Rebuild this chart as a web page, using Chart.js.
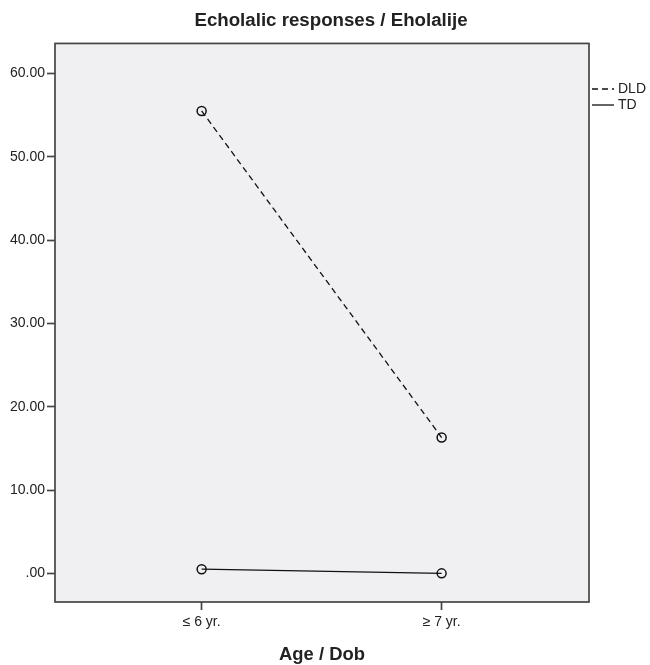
<!DOCTYPE html>
<html>
<head>
<meta charset="utf-8">
<script src="https://cdn.jsdelivr.net/npm/chart.js@4"></script>
<style>
  html, body { margin: 0; padding: 0; background: #ffffff; }
  #wrap { width: 650px; height: 665px; }
</style>
</head>
<body>
<div id="wrap"><canvas id="c" width="650" height="665"></canvas></div>
<script>
// ---- data ----
const chartTitle = 'Echolalic responses / Eholalije';
const xAxisTitle = 'Age / Dob';
const categories = ['\u2264 6 yr.', '\u2265 7 yr.'];
const seriesNames = ['DLD', 'TD'];
const dldValues = [55.5, 16.3];
const tdValues = [0.5, 0.0];
const yTicks = [0, 10, 20, 30, 40, 50, 60];

const FONT = "'Liberation Sans', Arial, Helvetica, sans-serif";
const INK = '#222222';
const FRAME = '#454545';

function toPoints(values) {
  return values.map((v, i) => ({ x: i + 1, y: v }));
}

const frameAndLegend = {
  id: 'frameAndLegend',
  beforeDraw(chart) {
    const { ctx, chartArea: a } = chart;
    ctx.save();
    ctx.fillStyle = '#f0f0f2';
    ctx.fillRect(a.left, a.top, a.right - a.left, a.bottom - a.top);
    ctx.restore();
  },
  afterDraw(chart) {
    const { ctx, chartArea: a } = chart;
    ctx.save();
    ctx.strokeStyle = FRAME;
    ctx.lineWidth = 1.7;
    ctx.strokeRect(a.left, a.top, a.right - a.left, a.bottom - a.top);
    // legend (outside plot, right)
    const x0 = a.right + 3;
    const lineLen = 22;
    const rows = [89, 105];
    chart.data.datasets.forEach((ds, i) => {
      const y = rows[i];
      ctx.beginPath();
      ctx.strokeStyle = '#111';
      ctx.lineWidth = 1.3;
      ctx.setLineDash(ds.borderDash || []);
      ctx.moveTo(x0, y);
      ctx.lineTo(x0 + lineLen, y);
      ctx.stroke();
      ctx.setLineDash([]);
      ctx.fillStyle = INK;
      ctx.font = '14px ' + FONT;
      ctx.textBaseline = 'middle';
      ctx.textAlign = 'left';
      ctx.fillText(ds.label, x0 + lineLen + 4, y);
    });
    ctx.restore();
  }
};

new Chart(document.getElementById('c'), {
  type: 'line',
  data: {
    datasets: [
      {
        label: seriesNames[0],
        data: toPoints(dldValues),
        borderColor: '#111',
        borderWidth: 1.3,
        borderDash: [6, 4],
        pointRadius: 4.5,
        pointBorderWidth: 1.5,
        pointBorderColor: '#111',
        pointBackgroundColor: 'rgba(0,0,0,0)',
        fill: false,
        tension: 0
      },
      {
        label: seriesNames[1],
        data: toPoints(tdValues),
        borderColor: '#111',
        borderWidth: 1.3,
        pointRadius: 4.5,
        pointBorderWidth: 1.5,
        pointBorderColor: '#111',
        pointBackgroundColor: 'rgba(0,0,0,0)',
        fill: false,
        tension: 0
      }
    ]
  },
  options: {
    responsive: false,
    animation: false,
    events: [],
    layout: { padding: { left: 0, right: -12, top: 0, bottom: 0 } },
    plugins: {
      legend: { display: false },
      tooltip: { enabled: false },
      title: {
        display: true,
        text: chartTitle,
        color: INK,
        font: { family: FONT, size: 18.7, weight: 'bold', lineHeight: 1.2 },
        padding: { top: 10, bottom: 11 }
      }
    },
    scales: {
      x: {
        type: 'linear',
        min: 0.389,
        max: 2.614,
        afterBuildTicks(scale) {
          scale.ticks = categories.map((c, i) => ({ value: i + 1 }));
        },
        afterFit(scale) { scale.height = 63; },
        ticks: {
          color: INK,
          font: { family: FONT, size: 14 },
          padding: 4,
          autoSkip: false,
          maxRotation: 0,
          callback: (v) => categories[Math.round(v) - 1]
        },
        grid: {
          drawOnChartArea: false,
          drawTicks: true,
          tickLength: 8,
          tickColor: FRAME,
          tickWidth: 1.7
        },
        border: { display: false },
        title: {
          display: true,
          text: xAxisTitle,
          color: INK,
          font: { family: FONT, size: 18.4, weight: 'bold', lineHeight: 1.0 },
          padding: { top: 0, bottom: 1 }
        }
      },
      y: {
        type: 'linear',
        min: -3.44,
        max: 63.6,
        afterBuildTicks(scale) {
          scale.ticks = yTicks.map(v => ({ value: v }));
        },
        afterFit(scale) { scale.width = 55; },
        ticks: {
          color: INK,
          font: { family: FONT, size: 14 },
          padding: 2,
          callback: (v) => Number(v).toFixed(2).replace(/^0\./, '.')
        },
        grid: {
          drawOnChartArea: false,
          drawTicks: true,
          tickLength: 8,
          tickColor: FRAME,
          tickWidth: 1.7
        },
        border: { display: false }
      },
      legendSpace: {
        type: 'linear',
        position: 'right',
        display: true,
        afterFit(scale) { scale.width = 73; },
        ticks: { display: false },
        grid: { display: false, drawOnChartArea: false, drawTicks: false },
        border: { display: false }
      }
    }
  },
  plugins: [frameAndLegend]
});
</script>
</body>
</html>
